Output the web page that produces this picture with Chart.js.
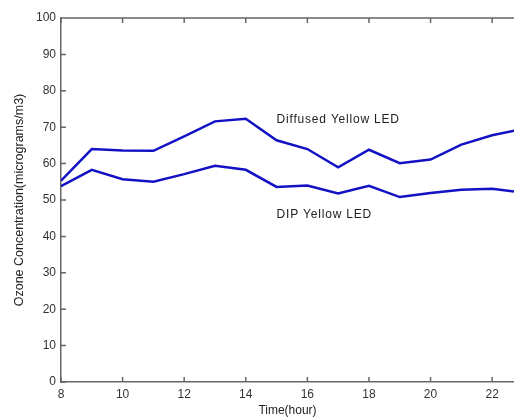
<!DOCTYPE html>
<html>
<head>
<meta charset="utf-8">
<script src="https://cdn.jsdelivr.net/npm/chart.js@4"></script>
<style>
html,body{margin:0;padding:0;background:#fff;}
#wrap{width:514px;height:418px;position:relative;}
</style>
</head>
<body>
<div id="wrap"><canvas id="c" width="514" height="418"></canvas></div>
<script>
const hours = [8, 9, 10, 11, 12, 13, 14, 15, 16, 17, 18, 19, 20, 21, 22, 23];
const diffusedYellow = [55.3, 64.0, 63.6, 63.5, 67.5, 71.6, 72.3, 66.4, 64.0, 59.0, 63.8, 60.1, 61.1, 65.2, 67.8, 69.5];
const dipYellow = [53.8, 58.3, 55.7, 55.0, 57.1, 59.4, 58.3, 53.6, 54.0, 51.8, 53.9, 50.8, 51.9, 52.8, 53.1, 52.0];
const xTicks = [8, 10, 12, 14, 16, 18, 20, 22];
const yTicks = [0, 10, 20, 30, 40, 50, 60, 70, 80, 90, 100];
const seriesNames = ['Diffused Yellow LED', 'DIP Yellow LED'];

const FONT = "'Liberation Sans', Arial, sans-serif";
const AXIS = '#666';

const frame = {
  id: 'frame',
  afterDraw(chart) {
    const ctx = chart.ctx, a = chart.chartArea;
    const xs = chart.scales.x, ys = chart.scales.y;
    ctx.save();
    ctx.strokeStyle = AXIS;
    ctx.lineWidth = 1.5;
    ctx.beginPath();
    ctx.moveTo(a.left, a.top); ctx.lineTo(a.right, a.top);
    xTicks.forEach(v => {
      const px = xs.getPixelForValue(v);
      ctx.moveTo(px, a.bottom); ctx.lineTo(px, a.bottom - 5);
      ctx.moveTo(px, a.top); ctx.lineTo(px, a.top + 5);
    });
    yTicks.forEach(v => {
      const py = ys.getPixelForValue(v);
      ctx.moveTo(a.left, py); ctx.lineTo(a.left + 5, py);
    });
    ctx.stroke();
    // series labels
    ctx.fillStyle = '#222';
    ctx.font = '12px ' + FONT;
    try { ctx.letterSpacing = '0.8px'; } catch (e) {}
    ctx.textBaseline = 'middle';
    ctx.textAlign = 'left';
    ctx.fillText(seriesNames[0], xs.getPixelForValue(15), ys.getPixelForValue(72.2));
    ctx.fillText(seriesNames[1], xs.getPixelForValue(15), ys.getPixelForValue(46.1));
    ctx.restore();
  }
};

new Chart(document.getElementById('c'), {
  type: 'line',
  data: {
    datasets: [
      { label: seriesNames[0], data: hours.map((h, i) => ({x: h, y: diffusedYellow[i]})),
        borderColor: '#1212c4', borderWidth: 2.5, pointRadius: 0, tension: 0, fill: false },
      { label: seriesNames[1], data: hours.map((h, i) => ({x: h, y: dipYellow[i]})),
        borderColor: '#1212c4', borderWidth: 2.5, pointRadius: 0, tension: 0, fill: false }
    ]
  },
  options: {
    responsive: false,
    animation: false,
    events: [],
    layout: { padding: { top: 18, right: 0, bottom: 0, left: 0 } },
    plugins: { legend: { display: false }, tooltip: { enabled: false } },
    scales: {
      x: {
        type: 'linear',
        min: 8,
        max: 22.71,
        afterBuildTicks: s => { s.ticks = xTicks.map(v => ({ value: v })); },
        afterFit: s => { s.height = 36; },
        grid: { display: true, drawOnChartArea: false, drawTicks: false },
        border: { display: true, color: AXIS, width: 1.5 },
        ticks: { padding: 5, color: '#333', font: { family: FONT, size: 12 }, maxRotation: 0, autoSkip: false },
        title: { display: true, text: 'Time(hour)', color: '#222', font: { family: FONT, size: 12 }, padding: { top: 0, bottom: 0 } }
      },
      y: {
        min: 0,
        max: 100,
        afterBuildTicks: s => { s.ticks = yTicks.map(v => ({ value: v })); },
        afterFit: s => { s.width = 61; },
        grid: { display: true, drawOnChartArea: false, drawTicks: false },
        border: { display: true, color: AXIS, width: 1.5 },
        ticks: { padding: 5, color: '#333', font: { family: FONT, size: 12 } },
        title: { display: true, text: 'Ozone Concentration(micrograms/m3)', color: '#222', font: { family: FONT, size: 12.5 }, padding: { top: 12, bottom: 0 } }
      }
    }
  },
  plugins: [frame]
});
</script>
</body>
</html>
